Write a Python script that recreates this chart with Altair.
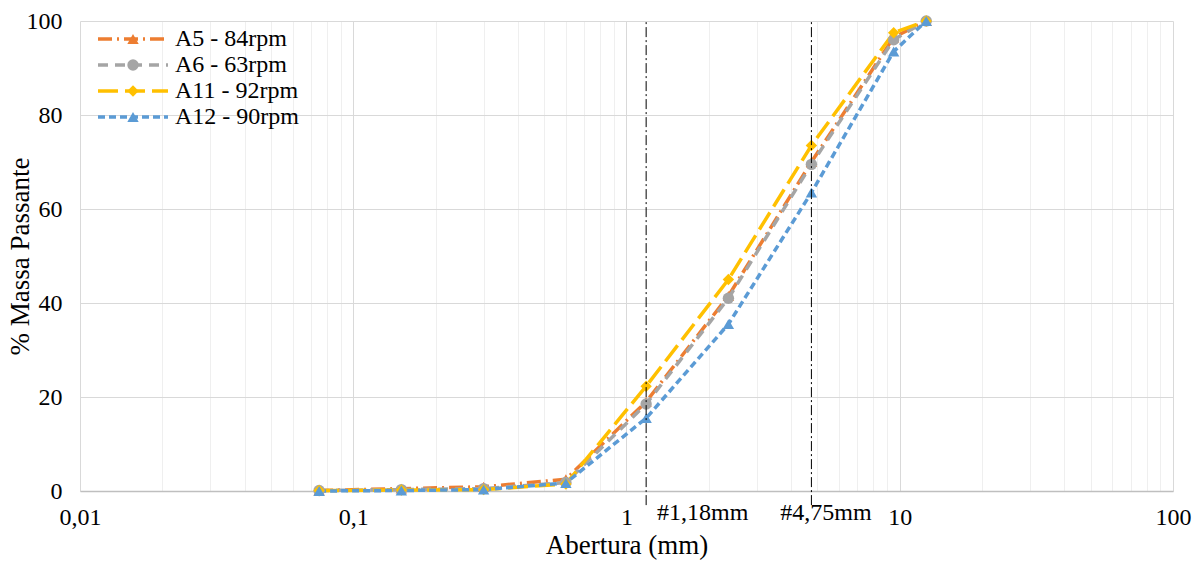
import altair as alt
import pandas as pd

# ---- data ----
sizes = [0.075, 0.15, 0.3, 0.6, 1.18, 2.36, 4.75, 9.5, 12.5]
series_names = ["A5 - 84rpm", "A6 - 63rpm", "A11 - 92rpm", "A12 - 90rpm"]
a5 = [0.1, 0.5, 0.9, 2.5, 19.0, 41.5, 70.0, 96.5, 100]
a6 = [0.1, 0.3, 0.5, 1.8, 18.5, 41.0, 69.5, 96.0, 100]
a11 = [0.1, 0.2, 0.3, 1.5, 22.3, 45.0, 73.5, 97.5, 100]
a12 = [0.0, 0.1, 0.3, 1.7, 15.5, 35.5, 63.5, 93.5, 100]
series_values = [a5, a6, a11, a12]

colors = ["#ED7D31", "#A5A5A5", "#FFC000", "#5B9BD5"]
dashes = [[14, 5, 2, 5], [10, 7], [20, 7], [7, 4]]
shapes = ["triangle-up", "circle", "diamond", "triangle-up"]

ref_sizes = [1.18, 4.75]
ref_labels = ["#1,18mm", "#4,75mm"]
ref_label_x = [1.9, 5.37]

FONT = "Liberation Serif"

rows = []
for name, vals in zip(series_names, series_values):
    for s, v in zip(sizes, vals):
        rows.append({"size": s, "pct": v, "serie": name})
df = pd.DataFrame(rows)

# grid values for the log axis
grid_vals = []
for e in range(-2, 2):
    for m in range(1, 10):
        grid_vals.append(round(m * 10.0 ** e, 10))
grid_vals.append(100.0)

xscale = alt.Scale(type="log", domain=[0.01, 100])
yscale = alt.Scale(domain=[0, 100])
color_scale = alt.Scale(domain=series_names, range=colors)
dash_scale = alt.Scale(domain=series_names, range=dashes)
shape_scale = alt.Scale(domain=series_names, range=shapes)

label_expr = ("datum.value == 0.01 ? '0,01' : datum.value == 0.1 ? '0,1' : "
              "datum.value == 1 ? '1' : datum.value == 10 ? '10' : "
              "datum.value == 100 ? '100' : ''")
decade_test = "abs(log(datum.value)/LN10 - round(log(datum.value)/LN10)) < 0.000001"

x_axis = alt.Axis(
    values=grid_vals, labelExpr=label_expr, title="Abertura (mm)",
    ticks=False, grid=True,
    gridColor={"condition": {"test": decade_test, "value": "#D9D9D9"}, "value": "#EFEFEF"},
    gridWidth=1, domainColor="#BFBFBF", domainWidth=1.3,
    labelFont=FONT, labelFontSize=24, labelColor="#000000", labelPadding=14,
    titleFont=FONT, titleFontSize=27, titleFontWeight="normal", titleColor="#000000",
    titlePadding=3, labelFlush=False, labelOverlap=False,
)
y_axis = alt.Axis(
    values=[0, 20, 40, 60, 80, 100], title="% Massa Passante", ticks=False,
    domain=False, gridColor="#D9D9D9", gridWidth=1,
    labelFont=FONT, labelFontSize=24, labelColor="#000000", labelPadding=18,
    titleFont=FONT, titleFontSize=27, titleFontWeight="normal", titleColor="#000000",
    titleX=-60, titleY=235, titleAngle=270, titleAlign="center", titleBaseline="middle",
)

base = alt.Chart(df)

lines = base.mark_line(strokeWidth=3.5).encode(
    x=alt.X("size:Q", scale=xscale, axis=x_axis),
    y=alt.Y("pct:Q", scale=yscale, axis=y_axis),
    color=alt.Color("serie:N", scale=color_scale, legend=None),
    strokeDash=alt.StrokeDash("serie:N", scale=dash_scale, legend=None),
    order=alt.Order("size:Q"),
)
points = base.mark_point(filled=True, size=130, opacity=1).encode(
    x=alt.X("size:Q", scale=xscale),
    y=alt.Y("pct:Q", scale=yscale),
    color=alt.Color("serie:N", scale=color_scale, legend=None),
    shape=alt.Shape("serie:N", scale=shape_scale, legend=None),
)

ref_df = pd.DataFrame({"size": ref_sizes, "y0": [-3, -3], "y1": [100, 100],
                       "lab": ref_labels, "lx": ref_label_x, "ly": [-4.6, -4.6]})
ref_rules = alt.Chart(ref_df).mark_rule(color="#000000", strokeWidth=1,
                                        strokeDash=[10, 3, 2, 3]).encode(
    x=alt.X("size:Q", scale=xscale), y=alt.Y("y0:Q", scale=yscale), y2="y1:Q")
ref_text = alt.Chart(ref_df).mark_text(font=FONT, fontSize=24, color="#000000",
                                       align="center", baseline="middle").encode(
    x=alt.X("lx:Q", scale=xscale), y=alt.Y("ly:Q", scale=yscale), text="lab:N")

# legend (top-left, inside the plot)
leg_df = pd.DataFrame({"serie": series_names, "ly": [18, 44, 70, 96]})
leg_lines = alt.Chart(leg_df).mark_rule(strokeWidth=3.5).encode(
    x=alt.value(18), x2=alt.value(88), y=alt.Y("ly:Q", scale=None),
    color=alt.Color("serie:N", scale=color_scale, legend=None),
    strokeDash=alt.StrokeDash("serie:N", scale=dash_scale, legend=None))
leg_pts = alt.Chart(leg_df).mark_point(filled=True, size=130, opacity=1).encode(
    x=alt.value(53), y=alt.Y("ly:Q", scale=None),
    color=alt.Color("serie:N", scale=color_scale, legend=None),
    shape=alt.Shape("serie:N", scale=shape_scale, legend=None))
leg_txt = alt.Chart(leg_df).mark_text(font=FONT, fontSize=24, color="#000000",
                                      align="left", baseline="middle").encode(
    x=alt.value(95), y=alt.Y("ly:Q", scale=None), text="serie:N")

chart = alt.layer(
    lines, points, ref_rules, ref_text, leg_lines, leg_pts, leg_txt
).resolve_scale(
    color="shared", strokeDash="shared", shape="shared"
).properties(
    width=1093, height=470,
    autosize=alt.AutoSizeParams(type="none"),
    padding={"left": 80, "top": 21, "right": 30, "bottom": 72},
    background="#FFFFFF",
).configure_view(stroke=None)

chart.save("out.html", embed_options={"renderer": "svg", "actions": False})
